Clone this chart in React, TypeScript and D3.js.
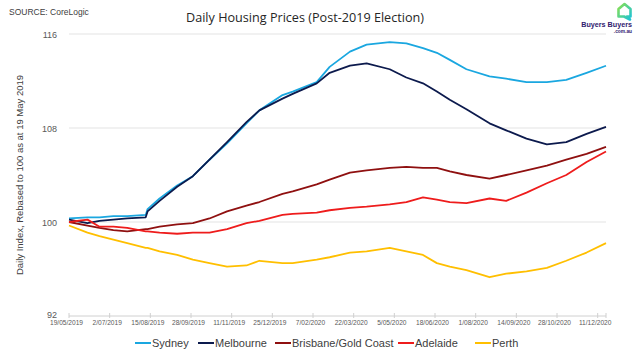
import * as d3 from 'd3';

// sample dates (dd/mm/yyyy) and index values
const dates = [
    '19/05/2019', '08/06/2019', '21/06/2019', '06/07/2019', '21/07/2019', '10/08/2019',
    '12/08/2019', '25/08/2019', '13/09/2019', '30/09/2019', '18/10/2019', '06/11/2019',
    '27/11/2019', '11/12/2019', '05/01/2020', '16/01/2020', '11/02/2020', '25/02/2020',
    '18/03/2020', '05/04/2020', '30/04/2020', '18/05/2020', '05/06/2020', '20/06/2020',
    '04/07/2020', '22/07/2020', '16/08/2020', '03/09/2020', '25/09/2020', '17/10/2020',
    '07/11/2020', '29/11/2020', '20/12/2020',
];

const sydney = [
    100.3, 100.4, 100.4, 100.5, 100.5, 100.6, 101.1, 102.0, 103.1, 103.9, 105.3, 106.7,
    108.4, 109.5, 110.8, 111.1, 111.9, 113.2, 114.5, 115.1, 115.3, 115.2, 114.8, 114.4,
    113.8, 113.0, 112.4, 112.2, 111.9, 111.9, 112.1, 112.7, 113.3,
];
const melbourne = [
    100.2, 99.9, 100.1, 100.2, 100.3, 100.4, 100.9, 101.8, 103.0, 103.9, 105.3, 106.8,
    108.5, 109.5, 110.5, 110.9, 111.8, 112.7, 113.3, 113.5, 113.0, 112.3, 111.8, 111.1,
    110.4, 109.6, 108.4, 107.8, 107.1, 106.6, 106.8, 107.5, 108.1,
];
const brisbane = [
    100.0, 99.7, 99.5, 99.3, 99.2, 99.4, 99.4, 99.6, 99.8, 99.9, 100.3, 100.9,
    101.4, 101.7, 102.4, 102.6, 103.2, 103.6, 104.2, 104.4, 104.6, 104.7, 104.6, 104.6,
    104.3, 104.0, 103.7, 104.0, 104.4, 104.8, 105.3, 105.8, 106.4,
];
const adelaide = [
    100.0, 100.2, 99.6, 99.6, 99.5, 99.2, 99.2, 99.1, 99.0, 99.1, 99.1, 99.4,
    99.9, 100.1, 100.6, 100.7, 100.8, 101.0, 101.2, 101.3, 101.5, 101.7, 102.1, 101.9,
    101.7, 101.6, 102.0, 101.8, 102.5, 103.3, 104.0, 105.1, 106.0,
];
const perth = [
    99.7, 99.1, 98.8, 98.5, 98.2, 97.8, 97.8, 97.5, 97.2, 96.8, 96.5, 96.2,
    96.3, 96.7, 96.5, 96.5, 96.8, 97.0, 97.4, 97.5, 97.8, 97.5, 97.2, 96.5,
    96.2, 95.9, 95.3, 95.6, 95.8, 96.1, 96.7, 97.4, 98.2,
];

const tickDates = [
    '19/05/2019', '2/07/2019', '15/08/2019', '28/09/2019', '11/11/2019', '25/12/2019',
    '7/02/2020', '22/03/2020', '5/05/2020', '18/06/2020', '1/08/2020', '14/09/2020',
    '28/10/2020', '11/12/2020',
];
const yTicks = [92, 100, 108, 116];

const series = [
    { name: 'Sydney', values: sydney, color: '#1aa7e0' },
    { name: 'Melbourne', values: melbourne, color: '#0c1a4d' },
    { name: 'Brisbane/Gold Coast', values: brisbane, color: '#8f1010' },
    { name: 'Adelaide', values: adelaide, color: '#ee1c1c' },
    { name: 'Perth', values: perth, color: '#ffbf00' },
];

const parse = d3.timeParse('%d/%m/%Y');
const W = 640;
const H = 353;
const margin = { top: 34, right: 34, bottom: 37, left: 69 };
const legendX = [135, 198, 275, 398, 475];

const App = () => {
    const parsed = dates.map(d => parse(d) as Date);
    const x = d3
        .scaleTime()
        .domain([parsed[0], parsed[parsed.length - 1]])
        .range([margin.left, W - margin.right]);
    const y = d3
        .scaleLinear()
        .domain([92, 116])
        .range([H - margin.bottom, margin.top]);

    const line = d3
        .line<number>()
        .x((_, i) => x(parsed[i]))
        .y(d => y(d));

    return (
        <svg
            width={W}
            height={H}
            style={{ position: 'absolute', left: 0, top: 0, background: '#fff' }}
            fontFamily="Arial, 'Liberation Sans', sans-serif"
        >
            <text x={9} y={15} fontSize={8.5} fill="#404040">SOURCE: CoreLogic</text>
            <text
                x={305}
                y={22}
                fontSize={13.5}
                fontFamily="'Open Sans', 'Noto Sans', sans-serif"
                textAnchor="middle"
                fill="#262626"
                textLength={238}
                lengthAdjust="spacingAndGlyphs"
            >
                Daily Housing Prices (Post-2019 Election)
            </text>

            {/* logo */}
            <defs>
                <linearGradient id="logoGrad" x1="0" y1="0" x2="1" y2="1">
                    <stop offset="0%" stopColor="#8be04e" />
                    <stop offset="100%" stopColor="#1cc3d8" />
                </linearGradient>
            </defs>
            <path
                d="M618.5,9 L624.5,4 L630.5,9 L630.5,16.5 L627,16.5 L630,19.5 L624,16.5 L618.5,16.5 Z"
                fill="none"
                stroke="url(#logoGrad)"
                strokeWidth={2.6}
                strokeLinejoin="round"
            />
            <text x={632} y={27} fontSize={7.2} fontWeight="bold" fill="#30206e" textAnchor="end">
                Buyers Buyers
            </text>
            <text x={632} y={32.5} fontSize={4.8} fontWeight="bold" fill="#30206e" textAnchor="end">
                .com.au
            </text>

            {/* grid */}
            {yTicks.map(t => (
                <g key={t}>
                    <line
                        x1={margin.left}
                        x2={W - margin.right}
                        y1={y(t)}
                        y2={y(t)}
                        stroke={t === 92 ? '#d0d0d0' : '#e3e3e3'}
                        strokeWidth={1}
                    />
                    <text
                        x={57}
                        y={t === 92 ? y(t) + 2 : y(t) + 3.5}
                        fontSize={9}
                        fill="#595959"
                        textAnchor="end"
                    >
                        {t}
                    </text>
                </g>
            ))}

            {/* x axis ticks */}
            {tickDates.map(t => {
                const px = x(parse(t) as Date);
                return (
                    <g key={t}>
                        <line x1={px} x2={px} y1={y(92) - 3} y2={y(92) + 2} stroke="#d0d0d0" />
                        <text x={px - 2.5} y={324.5} fontSize={6.6} fill="#595959" textAnchor="middle">
                            {t}
                        </text>
                    </g>
                );
            })}
            <line x1={W - margin.right} x2={W - margin.right} y1={y(92) - 3} y2={y(92) + 2} stroke="#d0d0d0" />

            <text
                transform={`translate(23,${(y(92) + y(116)) / 2}) rotate(-90)`}
                fontSize={9.5}
                fill="#404040"
                textAnchor="middle"
            >
                Daily Index, Rebased to 100 as at 19 May 2019
            </text>

            {/* series */}
            {series.map(s => (
                <path
                    key={s.name}
                    d={line(s.values) ?? ''}
                    fill="none"
                    stroke={s.color}
                    strokeWidth={1.8}
                    strokeLinejoin="round"
                />
            ))}

            {/* legend */}
            {series.map((s, i) => (
                <g key={s.name} transform={`translate(${legendX[i]},343)`}>
                    <line x1={0} x2={16} y1={0} y2={0} stroke={s.color} strokeWidth={2} />
                    <text x={17} y={4} fontSize={11} fill="#404040">
                        {s.name}
                    </text>
                </g>
            ))}
        </svg>
    );
};

export default App;
